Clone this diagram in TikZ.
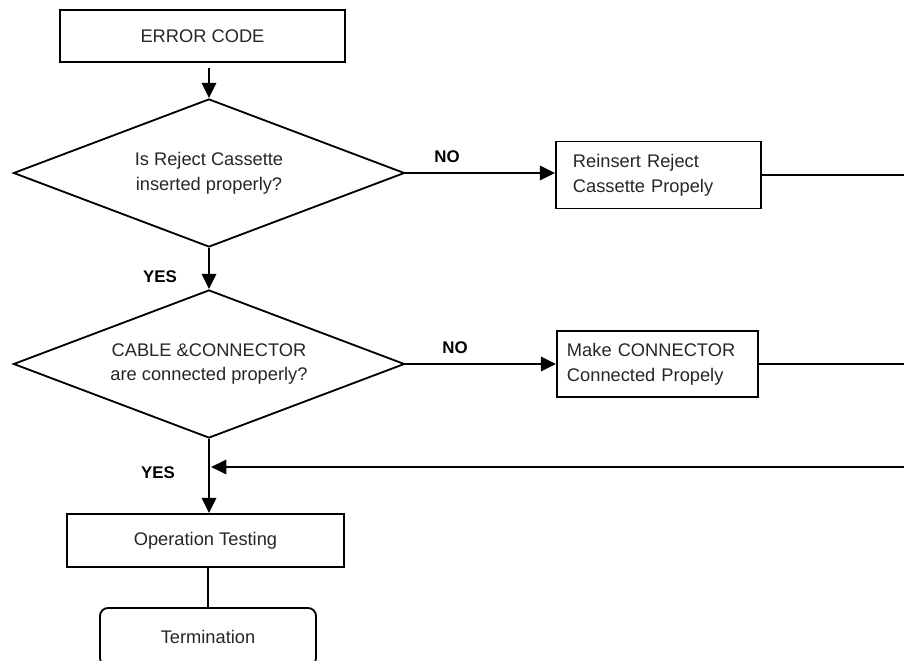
\documentclass[tikz,border=0pt]{standalone}
\usepackage{fontspec}
\setmainfont{Liberation Sans}
\usetikzlibrary{arrows.meta,positioning,shapes.geometric}

\begin{document}
\begin{tikzpicture}[x=0.025cm,y=-0.025cm,
  proc/.style={draw,line width=1.3pt,inner sep=0pt,text=black!85,font=\fontsize{13}{17.5}\selectfont},
  dec/.style={diamond,draw,line width=1.3pt,minimum width=9.775cm,minimum height=3.7cm,aspect=2.64,inner sep=0pt,align=center,text=black!85,font=\fontsize{13}{17.5}\selectfont},
  arr/.style={-{Triangle[length=0.38cm,width=0.36cm]},line width=1.3pt},
  lab/.style={font=\fontsize{12}{14}\selectfont\bfseries}]
\useasboundingbox (0,0) rectangle (904,661);
\node[proc,minimum width=7.125cm,minimum height=1.3cm] (err) at (202.5,36) {ERROR CODE};
\node[dec] (d1) at (209,173) {Is Reject Cassette\\inserted properly?};
\node[dec] (d2) at (209,364) {CABLE \&CONNECTOR\\are connected properly?};
\node[proc,minimum height=1.675cm,text width=4.275cm,inner xsep=0.425cm,align=left] (r1) at (658.5,175) {Reinsert Reject\\Cassette Propely};
\node[proc,minimum height=1.65cm,text width=4.525cm,inner xsep=0.25cm,align=left] (r2) at (657.5,364) {Make CONNECTOR\\Connected Propely};
\node[proc,minimum width=6.925cm,minimum height=1.325cm] (op) at (205.5,540.5) {Operation Testing};
\node[proc,rounded corners=0.2cm,minimum width=5.4cm,minimum height=1.45cm] (term) at (208,637) {Termination};
% labels
\node[lab] (no1) at (447,157) {NO};
\node[lab] (no2) at (455,348) {NO};
\node[lab] (yes1) at (160,277) {YES};
\node[lab] (yes2) at (158,473) {YES};
% right edge ends
\coordinate (e1) at (904,175);
\coordinate (e2) at (904,365);
\coordinate (e3) at (904,467);
\draw[arr] (d1.north |- err.south) ++(0,5) -- (d1.north);
\draw[arr] (d1.east) -- (d1.east -| r1.west);
\draw[line width=1.3pt] (r1.east) -- (r1.east -| e1);
\draw[arr] (d1.south) -- (d2.north);
\draw[arr] (d2.east) -- (d2.east -| r2.west);
\draw[line width=1.3pt] (r2.east) -- (r2.east -| e2);
\draw[arr] (d2.south) -- (op.north -| d2.south);
\draw[arr,shorten >=1.5pt] (e3) -- (e3 -| d2.south);
\draw[line width=1.3pt] (op.south -| term.north) -- (term.north);
\end{tikzpicture}
\end{document}
